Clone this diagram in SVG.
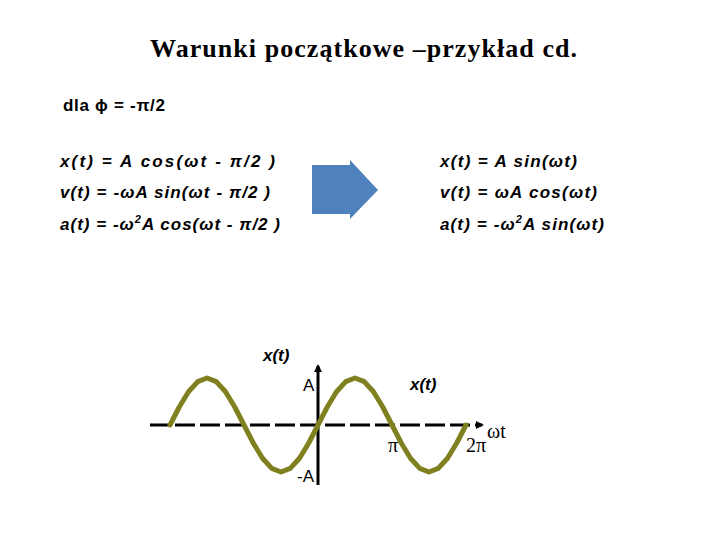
<svg xmlns="http://www.w3.org/2000/svg" width="720" height="540" viewBox="0 0 720 540">
<style>
.f{font-family:"Liberation Sans",Arial,sans-serif;font-size:17px;font-style:italic;font-weight:bold;fill:#000}
.s{font-family:"Liberation Serif","Times New Roman",serif;fill:#000}
.r{font-family:"Liberation Sans",Arial,sans-serif;font-size:17px;fill:#000}
</style>
<defs><marker id="ah" markerWidth="8" markerHeight="8" refX="6" refY="4" orient="auto" markerUnits="userSpaceOnUse"><path d="M0,0 L8,4 L0,8 Z" fill="#000"/></marker></defs>
<rect width="720" height="540" fill="#fff"/>
<text class="s" x="150" y="57" font-size="26" font-weight="bold" textLength="427" lengthAdjust="spacing">Warunki początkowe –przykład cd.</text>
<text class="r" x="63" y="111" font-weight="bold" textLength="102" lengthAdjust="spacing">dla ϕ = -π/2</text>
<g id="left">
<text class="f" x="60" y="167" textLength="215" lengthAdjust="spacing">x(t) = A cos(ωt - π/2 )</text>
<text class="f" x="60" y="198" textLength="210" lengthAdjust="spacing">v(t) = -ωA sin(ωt - π/2 )</text>
<text class="f" x="60" y="230" textLength="220" lengthAdjust="spacing">a(t) = -ω<tspan font-size="11" dy="-7">2</tspan><tspan dy="7">A cos(ωt - π/2 )</tspan></text>
</g>
<g id="arrow"><polygon points="312,165 350,165 350,160 378,190 350,219 350,214 312,214" fill="#4f81bd"/></g>
<g id="right">
<text class="f" x="440" y="167" textLength="137" lengthAdjust="spacing">x(t) = A sin(ωt)</text>
<text class="f" x="440" y="198" textLength="157" lengthAdjust="spacing">v(t) = ωA cos(ωt)</text>
<text class="f" x="440" y="230" textLength="164" lengthAdjust="spacing">a(t) = -ω<tspan font-size="11" dy="-7">2</tspan><tspan dy="7">A sin(ωt)</tspan></text>
</g>
<g id="connectors">
<line x1="150" y1="425" x2="482" y2="425" stroke="#000" stroke-width="3" stroke-dasharray="20,5" marker-end="url(#ah)"/>
<line x1="318" y1="485" x2="318" y2="366" stroke="#000" stroke-width="3" marker-end="url(#ah)"/>
</g>
<g id="curve"><polyline fill="none" stroke="#808020" stroke-width="5" stroke-linejoin="round" stroke-linecap="round" points="170,425 179.25,407 188.5,391.8 197.75,381.6 207,378 216.25,381.6 225.5,391.8 234.75,407 244,425 253.25,443 262.5,458.2 271.75,468.4 281,472 290.25,468.4 299.5,458.2 308.75,443 318,425 327.25,407 336.5,391.8 345.75,381.6 355,378 364.25,381.6 373.5,391.8 382.75,407 392,425 401.25,443 410.5,458.2 419.75,468.4 429,472 438.25,468.4 447.5,458.2 456.75,443 466,425"/></g>
<g id="labels">
<text class="f" x="263" y="361">x(t)</text>
<text class="f" x="410" y="390">x(t)</text>
<text class="r" x="303" y="391">A</text>
<text class="r" x="297" y="482">-A</text>
<text class="s" x="388" y="452" font-size="20">π</text>
<text class="s" x="466" y="452" font-size="20">2π</text>
<text class="s" x="487" y="438" font-size="20">ωt</text>
</g>
</svg>
